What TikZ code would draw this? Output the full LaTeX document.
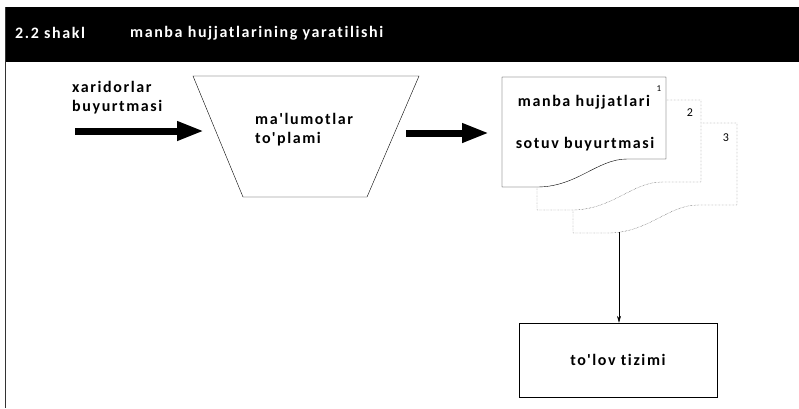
\documentclass[tikz,border=0pt]{standalone}
\usepackage{fontspec}
\setmainfont{Carlito}
\newfontfamily\sheetfont[LetterSpace=10, Ligatures=NoCommon]{Carlito}
\usetikzlibrary{arrows.meta}
\newcommand{\labelsize}{\fontsize{16}{18}\selectfont}
\tikzset{
    label text/.style={font=\sheetfont\bfseries\labelsize, inner sep=0pt, anchor=west},
    head text/.style={label text, text=white},
    fat arrow/.style={line width=7pt, -{Triangle[length=27pt, width=18pt]}},
    thin arrow/.style={semithick, -{Stealth[length=7pt, width=4pt]}},
    sheet/.style={draw, thin, fill=white},
    back sheet/.style={sheet, densely dotted, draw=black!85},
    sheet num/.style={font=\fontsize{12}{14}\selectfont, inner sep=0pt},
    paybox/.style={draw, thin, minimum width=198pt, minimum height=74pt}
}
% one sheet of the stack, #1 = style, #2 = top left corner
\newcommand{\docsheet}[2]{
    \draw[#1, shift={#2}] (0,0) -- (164,0) -- (164,82) -- (125,82)
        .. controls (95,82) and (75,110) .. (35,110) -- (0,110) -- cycle;
}
\begin{document}
\begin{tikzpicture}[x=1pt, y=-1pt]
    \useasboundingbox (0,0) rectangle (799,408);

    % header band
    \fill (5,7) rectangle (799,62);
    \draw[semithick, black!80] (5,7) -- (5,408);
    \node[head text] (head-num) at (15,33) {2.2 shakl};
    \node[head text] (head-title) at (130,33) {manba hujjatlarining yaratilishi};

    % incoming orders
    \node[label text, align=left] (orders) at (72,98) {xaridorlar\\[1pt]buyurtmasi};
    \coordinate (orders-tail) at (75,131);
    \coordinate (orders-tip) at (204,131);
    \draw[fat arrow] (orders-tail) -- (orders-tip);

    % data collection
    \draw[thin] (193,76) -- (419,76) -- (367,197) -- (243,197) -- cycle;
    \node[label text, align=left] (collect) at (255,130) {ma'lumotlar\\[1pt]to'plami};
    \coordinate (collect-tail) at (406,133);
    \coordinate (collect-tip) at (489,133);
    \draw[fat arrow] (collect-tail) -- (collect-tip);

    % stack of source documents
    \docsheet{back sheet}{(573,123)}
    \docsheet{back sheet}{(537,100)}
    \docsheet{sheet}{(502,77)}
    \node[label text, anchor=center] (doc-title) at (584,102) {manba hujjatlari};
    \node[label text, anchor=center] (doc-order) at (585,144) {sotuv buyurtmasi};
    \node[sheet num, font=\fontsize{9}{10}\selectfont] (num-1) at (659,89) {1};
    \node[sheet num] (num-2) at (690,113) {2};
    \node[sheet num] (num-3) at (726,138) {3};
    \coordinate (stack-foot) at (619,232);

    % payment system
    \node[paybox] (pay) at (618,360) {};
    \node[label text, anchor=center] (pay-text) at (pay.center) {to'lov tizimi};
    \draw[thin arrow] (stack-foot) -- (pay.north -| stack-foot);
\end{tikzpicture}
\end{document}
